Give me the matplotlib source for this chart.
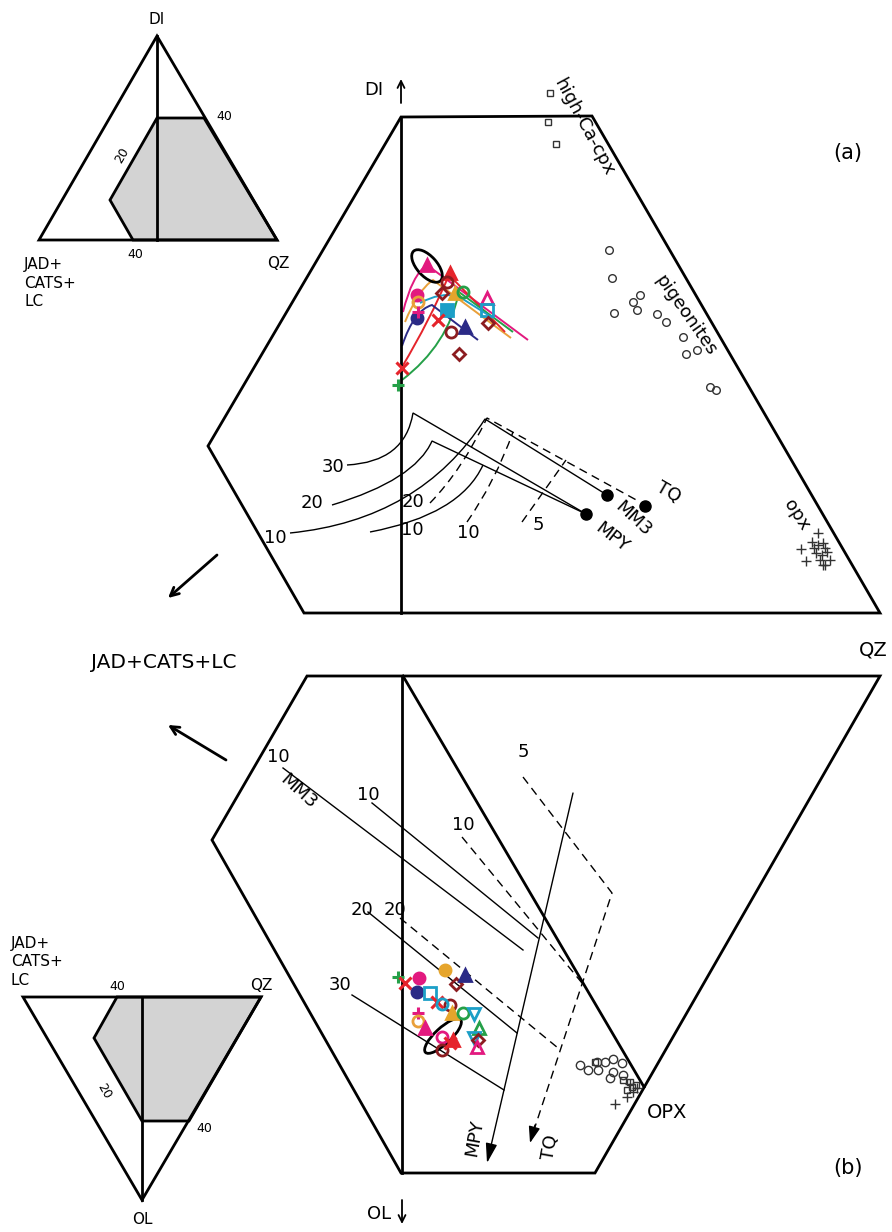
import matplotlib.pyplot as plt
from matplotlib.path import Path
from matplotlib.patches import PathPatch, Polygon, Ellipse

plt.rcParams['font.family'] = ['DejaVu Sans']

# colours of the sample series
MAG = '#e2197f'
RED = '#e5242b'
GRN = '#25a048'
NAV = '#2b2a86'
CYA = '#1c9fc7'
GLD = '#e6a52c'
ORA = '#e9a03a'
DKR = '#8c1c20'

# frame outlines (projection coordinates, pixels)
frame_a = [(401, 117), (592, 116), (880, 613), (304, 613), (208, 446)]
frame_b = [(307, 676), (880, 676), (595, 1173), (401, 1173), (212, 840)]

# inset triangles
inset_a = [(157, 36), (277, 240), (39, 240)]
field_a = [(157, 118), (204, 118), (277, 240), (133, 240), (110, 200)]
inset_b = [(23, 997), (261, 997), (142, 1200)]
field_b = [(117, 997), (261, 997), (189, 1121), (142, 1121), (94, 1038)]

# model bulk compositions, panel (a)
model_x = [586, 607, 645]
model_y = [514, 495, 506]
model_names = ['MPY', 'MM3', 'TQ']

# natural pyroxenes, panel (a)
hcpx_x = [550, 548, 556]
hcpx_y = [93, 122, 144]
pig_x = [609, 612, 614, 640, 633, 637, 657, 666, 683, 686, 697, 710, 716]
pig_y = [250, 278, 313, 295, 302, 310, 314, 322, 337, 354, 350, 387, 390]
opx_x = [818, 812, 801, 806, 818, 825, 822, 827, 820, 823, 830, 823, 814, 825, 816]
opx_y = [533, 542, 549, 561, 545, 548, 555, 552, 560, 565, 560, 543, 548, 565, 553]

# natural pyroxenes, panel (b)
opxb_circ_x = [580, 588, 597, 605, 613, 622, 598, 613, 610, 623]
opxb_circ_y = [1065, 1070, 1062, 1062, 1059, 1063, 1070, 1072, 1078, 1075]
opxb_sq_x = [595, 623, 630, 632, 627, 636]
opxb_sq_y = [1062, 1080, 1082, 1087, 1090, 1085]
opxb_plus_x = [627, 615, 637, 633, 630]
opxb_plus_y = [1097, 1104, 1088, 1092, 1084]

# experimental melts: (marker, colour, filled)
melt_style = [('^', MAG, True), ('^', RED, True), ('o', DKR, False), ('D', DKR, False),
              ('o', MAG, True), ('o', ORA, False), ('^', GLD, True), ('o', GRN, False),
              ('^', MAG, False), ('s', CYA, True), ('s', CYA, False), ('x', RED, True),
              ('o', NAV, True), ('+', MAG, True), ('^', NAV, True), ('o', DKR, False),
              ('D', DKR, False), ('D', DKR, False), ('x', RED, True), ('+', GRN, True)]
melt_a_x = [427, 450, 447, 442, 417, 418, 455, 463, 487, 447, 487, 438, 417, 418, 465, 451, 488, 459, 402, 398]
melt_a_y = [265, 273, 282, 293, 295, 302, 293, 292, 298, 310, 310, 320, 318, 312, 327, 332, 323, 354, 368, 385]

melt_b_style = [('+', GRN, True), ('x', RED, True), ('o', MAG, True), ('o', GLD, True),
                ('D', DKR, False), ('^', NAV, True), ('o', NAV, True), ('s', CYA, False),
                ('x', RED, True), ('o', DKR, False), ('o', CYA, False), ('+', MAG, True),
                ('o', ORA, False), ('^', MAG, True), ('^', GLD, True), ('o', GRN, False),
                ('v', CYA, False), ('^', GRN, False), ('o', MAG, False), ('^', RED, True),
                ('v', CYA, False), ('D', DKR, False), ('^', MAG, False), ('o', DKR, False),
                ('x', RED, True)]
melt_b_x = [398, 405, 419, 445, 456, 465, 417, 430, 437, 450, 442, 418, 418, 425, 452, 463,
            474, 479, 442, 453, 474, 478, 477, 442, 450]
melt_b_y = [977, 983, 978, 970, 984, 975, 992, 993, 1002, 1005, 1004, 1013, 1021, 1028, 1013, 1013,
            1014, 1028, 1037, 1040, 1038, 1040, 1047, 1050, 1043]

# melting trends of the starting materials, panel (a)
trend_a = [
    (MAG, [(403, 312), (412, 275), (427, 265), (528, 340)]),
    (ORA, [(405, 322), (418, 290), (433, 280), (511, 338)]),
    (RED, [(402, 367), (430, 320), (449, 275), (505, 332)]),
    (GRN, [(402, 380), (448, 345), (459, 292), (513, 332)]),
    (NAV, [(402, 346), (414, 310), (432, 305), (478, 340)]),
    (CYA, [(420, 303), (440, 292), (458, 296), (493, 318)]),
]


def curve(ax, pts, **kw):
    # quadratic bezier through the first three points, then straight on
    codes = [Path.MOVETO, Path.CURVE3, Path.CURVE3] + [Path.LINETO] * (len(pts) - 3)
    ax.add_patch(PathPatch(Path(pts, codes), fill=False, **kw))


def arrow(ax, start, end, lw=1.0, head='-|>', hl=0.9, hw=0.3, ls='-'):
    ax.annotate('', xy=end, xytext=start,
                arrowprops=dict(arrowstyle=f'{head},head_length={hl},head_width={hw}',
                                lw=lw, color='black', linestyle=ls, shrinkA=0, shrinkB=0))


def draw_melt(ax, xs, ys, styles, ms=8):
    for x, y, (m, c, f) in zip(xs, ys, styles):
        if m in ('+', 'x'):
            ax.plot(x, y, m, color=c, ms=ms, mew=2.2)
        else:
            ax.plot(x, y, m, ms=ms if m != 'D' else ms - 1.5, mew=2.0, mec=c,
                    mfc=c if f else 'none')


fig = plt.figure(figsize=(8.92, 12.32), dpi=100)
ax = fig.add_axes([0, 0, 1, 1])
ax.set_xlim(0, 892)
ax.set_ylim(1232, 0)
ax.axis('off')

# ---- inset triangles ----
ax.add_patch(Polygon(field_a, closed=True, fc='#d3d3d3', ec='black', lw=2))
ax.add_patch(Polygon(inset_a, closed=True, fill=False, ec='black', lw=2))
ax.plot([157, 157], [36, 240], 'k', lw=2)
ax.add_patch(Polygon(field_b, closed=True, fc='#d3d3d3', ec='black', lw=2))
ax.add_patch(Polygon(inset_b, closed=True, fill=False, ec='black', lw=2))
ax.plot([142, 142], [997, 1200], 'k', lw=2)

ax.text(157, 20, 'DI', fontsize=11, ha='center', va='center')
ax.text(216, 116, '40', fontsize=9, ha='left', va='center')
ax.text(122, 155, '20', fontsize=9, ha='center', va='center', rotation=60)
ax.text(135, 254, '40', fontsize=9, ha='center', va='center')
ax.text(278, 263, 'QZ', fontsize=11, ha='center', va='center')
ax.text(24, 283, 'JAD+\nCATS+\nLC', fontsize=11, ha='left', va='center', linespacing=1.3)

ax.text(117, 986, '40', fontsize=9, ha='center', va='center')
ax.text(261, 986, 'QZ', fontsize=11, ha='center', va='center')
ax.text(196, 1128, '40', fontsize=9, ha='left', va='center')
ax.text(104, 1091, '20', fontsize=9, ha='center', va='center', rotation=-60)
ax.text(142, 1219, 'OL', fontsize=11, ha='center', va='center')
ax.text(11, 962, 'JAD+\nCATS+\nLC', fontsize=11, ha='left', va='center', linespacing=1.3)

# ---- panel frames ----
ax.add_patch(Polygon(frame_a, closed=True, fill=False, ec='black', lw=2))
ax.plot([401, 401], [117, 613], 'k', lw=2)
ax.add_patch(Polygon(frame_b, closed=True, fill=False, ec='black', lw=2))
ax.plot([402, 402], [676, 1173], 'k', lw=2)
ax.plot([403, 644], [676, 1087], 'k', lw=2)

# axis direction arrows and end-member labels
arrow(ax, (401, 103), (401, 79), lw=1.3, head='->', hl=0.5, hw=0.25)
ax.text(383, 90, 'DI', fontsize=13, ha='right', va='center')
arrow(ax, (402, 1200), (402, 1224), lw=1.3, head='->', hl=0.5, hw=0.25)
ax.text(391, 1214, 'OL', fontsize=13, ha='right', va='center')
arrow(ax, (217, 555), (168, 598), lw=2, head='->', hl=0.6, hw=0.3)
arrow(ax, (226, 760), (168, 725), lw=2, head='->', hl=0.6, hw=0.3)
ax.text(164, 662, 'JAD+CATS+LC', fontsize=14.5, ha='center', va='center')
ax.text(873, 650, 'QZ', fontsize=14, ha='center', va='center')
ax.text(848, 153, '(a)', fontsize=15, ha='center', va='center')
ax.text(848, 1168, '(b)', fontsize=15, ha='center', va='center')

# ---- panel (a): isopleths of melting ----
curve(ax, [(347, 465), (405, 462), (413, 413), (586, 514)], lw=1, ec='black')
curve(ax, [(332, 505), (415, 480), (432, 441), (586, 514)], lw=1, ec='black')
curve(ax, [(290, 533), (420, 520), (485, 419), (607, 495)], lw=1, ec='black')
curve(ax, [(370, 532), (460, 515), (483, 465)], lw=1, ec='black')
curve(ax, [(430, 503), (462, 470), (487, 418), (640, 502)], lw=1, ec='black', ls=(0, (6, 4)))
curve(ax, [(467, 522), (495, 482), (513, 432)], lw=1, ec='black', ls=(0, (6, 4)))
ax.plot([522, 566], [522, 460], 'k', lw=1, ls=(0, (6, 4)))

for x, y, s in [(333, 467, '30'), (312, 503, '20'), (275, 538, '10'), (413, 502, '20'),
                (412, 530, '10'), (468, 533, '10'), (538, 525, '5')]:
    ax.text(x, y, s, fontsize=13, ha='center', va='center')

ax.plot(model_x, model_y, 'o', color='black', ms=8)
for x, y, s, r in [(612, 537, model_names[0], -38), (633, 519, model_names[1], -43),
                   (668, 492, model_names[2], -30)]:
    ax.text(x, y, s, fontsize=13, ha='center', va='center', rotation=r)

ax.plot(hcpx_x, hcpx_y, 's', mfc='none', mec='#333333', ms=5, mew=1)
ax.plot(pig_x, pig_y, 'o', mfc='none', mec='#333333', ms=5.5, mew=1)
ax.plot(opx_x, opx_y, '+', color='#333333', ms=7, mew=1)
ax.text(584, 127, 'high-Ca-cpx', fontsize=13, ha='center', va='center', rotation=-61.5)
ax.text(686, 315, 'pigeonites', fontsize=13, ha='center', va='center', rotation=-55)
ax.text(797, 515, 'opx', fontsize=13, ha='center', va='center', rotation=-57)

for c, pts in trend_a:
    curve(ax, pts, lw=1.4, ec=c)
draw_melt(ax, melt_a_x, melt_a_y, melt_style)
ax.add_patch(Ellipse((427, 266), 40, 20, angle=48, fill=False, ec='black', lw=2))

# ---- panel (b): isopleths and melting paths ----
ax.plot([283, 523], [768, 950], 'k', lw=1)
ax.plot([372, 538], [803, 938], 'k', lw=1)
ax.plot([368, 517], [912, 1033], 'k', lw=1)
ax.plot([352, 504], [995, 1090], 'k', lw=1)
ax.plot([400, 558], [918, 1048], 'k', lw=1, ls=(0, (6, 4)))
ax.plot([462, 582], [837, 983], 'k', lw=1, ls=(0, (6, 4)))
ax.plot([523, 612, 533], [777, 893, 1133], 'k', lw=1, ls=(0, (6, 4)))
arrow(ax, (535, 1125), (530, 1143), lw=1, hl=1.0, hw=0.35)
arrow(ax, (573, 793), (487, 1163), lw=1, hl=1.2, hw=0.35)

for x, y, s in [(278, 757, '10'), (368, 795, '10'), (463, 825, '10'), (523, 752, '5'),
                (362, 910, '20'), (395, 910, '20'), (340, 985, '30')]:
    ax.text(x, y, s, fontsize=13, ha='center', va='center')
ax.text(298, 792, 'MM3', fontsize=13, ha='center', va='center', rotation=-42)
ax.text(475, 1138, 'MPY', fontsize=13, ha='center', va='center', rotation=80)
ax.text(550, 1147, 'TQ', fontsize=13, ha='center', va='center', rotation=80)
ax.text(647, 1112, 'OPX', fontsize=14, ha='left', va='center')

ax.plot(opxb_circ_x, opxb_circ_y, 'o', mfc='none', mec='#333333', ms=6, mew=1)
ax.plot(opxb_sq_x, opxb_sq_y, 's', mfc='none', mec='#333333', ms=5, mew=1)
ax.plot(opxb_plus_x, opxb_plus_y, '+', color='#333333', ms=7, mew=1)

draw_melt(ax, melt_b_x, melt_b_y, melt_b_style)
ax.add_patch(Ellipse((443, 1036), 48, 16, angle=-43, fill=False, ec='black', lw=2))

fig.savefig('out.png', dpi=100)
